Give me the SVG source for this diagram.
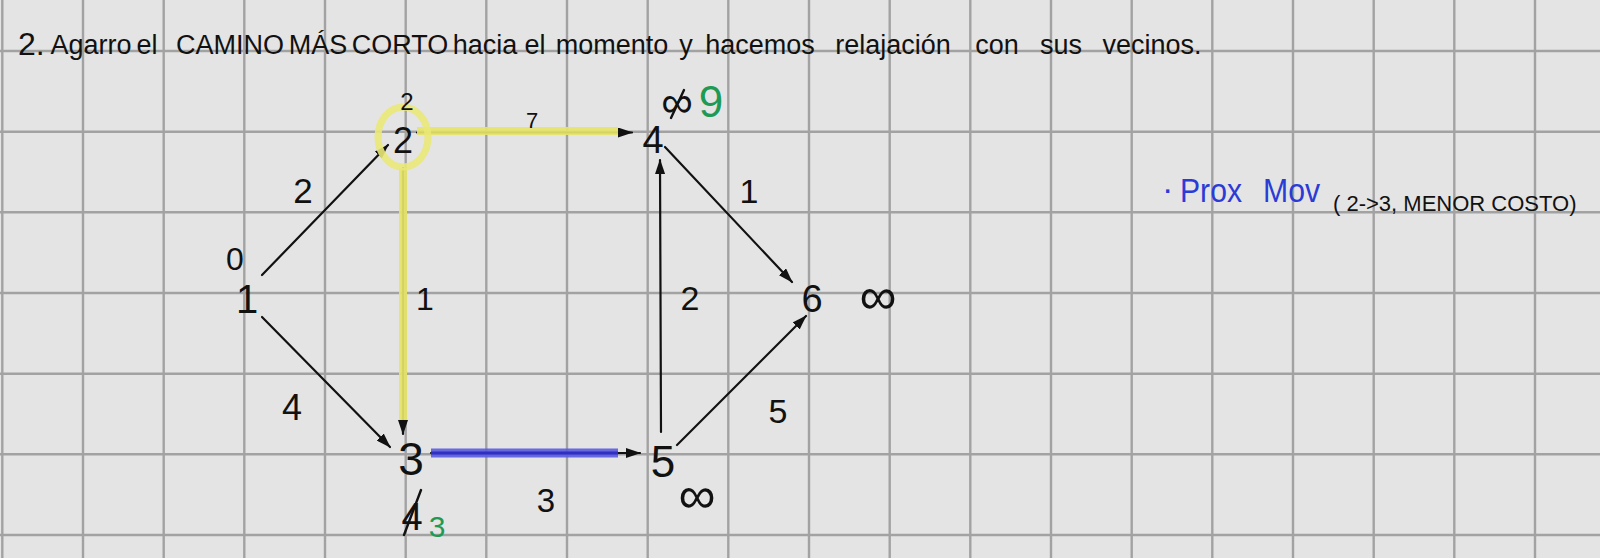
<svg xmlns="http://www.w3.org/2000/svg" width="1600" height="558" viewBox="0 0 1600 558">
<defs>
<style>
.grid line{stroke:#a2a2a2;stroke-width:2.4}
.hw{font-family:"Liberation Sans","DejaVu Sans",sans-serif;fill:#111}
.edge{stroke:#111;stroke-width:2.2;fill:none;stroke-linecap:round}
.arr{marker-end:url(#ah)}
.yel{stroke:#e6e56a;stroke-width:8;fill:none;opacity:0.92}
.blu{stroke:#5a5ae0;stroke-width:9;fill:none;opacity:0.9}
.bluc{stroke:#2f2fc2;stroke-width:3;fill:none}
.grn{fill:#1f9a55}
.blue{fill:#2b3bd6}
.strike{stroke:#111;stroke-width:2.4;stroke-linecap:round}
</style>
<marker id="ah" markerUnits="userSpaceOnUse" markerWidth="15" markerHeight="10" refX="14" refY="5" orient="auto">
<path d="M0,0 L15,5 L0,10 z" fill="#111"/>
</marker>
</defs>
<rect width="1600" height="558" fill="#e4e4e4"/>
<g class="grid">
<line x1="2.3" y1="0" x2="2.3" y2="558"/><line x1="83" y1="0" x2="83" y2="558"/><line x1="163.7" y1="0" x2="163.7" y2="558"/><line x1="244.3" y1="0" x2="244.3" y2="558"/><line x1="325" y1="0" x2="325" y2="558"/><line x1="405.7" y1="0" x2="405.7" y2="558"/><line x1="486.3" y1="0" x2="486.3" y2="558"/><line x1="567" y1="0" x2="567" y2="558"/><line x1="647.7" y1="0" x2="647.7" y2="558"/><line x1="728.3" y1="0" x2="728.3" y2="558"/><line x1="809" y1="0" x2="809" y2="558"/><line x1="889.7" y1="0" x2="889.7" y2="558"/><line x1="970.3" y1="0" x2="970.3" y2="558"/><line x1="1051" y1="0" x2="1051" y2="558"/><line x1="1131.7" y1="0" x2="1131.7" y2="558"/><line x1="1212.3" y1="0" x2="1212.3" y2="558"/><line x1="1293" y1="0" x2="1293" y2="558"/><line x1="1373.7" y1="0" x2="1373.7" y2="558"/><line x1="1454.3" y1="0" x2="1454.3" y2="558"/><line x1="1535" y1="0" x2="1535" y2="558"/>
<line x1="0" y1="51" x2="1600" y2="51"/><line x1="0" y1="131.7" x2="1600" y2="131.7"/><line x1="0" y1="212.3" x2="1600" y2="212.3"/><line x1="0" y1="293" x2="1600" y2="293"/><line x1="0" y1="373.7" x2="1600" y2="373.7"/><line x1="0" y1="454.3" x2="1600" y2="454.3"/><line x1="0" y1="535" x2="1600" y2="535"/>
</g>
<g id="title" class="hw">
<text x="18" y="55" font-size="32">2.</text>
<text y="54" font-size="27" text-anchor="middle"><tspan x="91">Agarro</tspan><tspan x="147">el</tspan><tspan x="230">CAMINO</tspan><tspan x="318">MÁS</tspan><tspan x="400">CORTO</tspan><tspan x="485">hacia</tspan><tspan x="535">el</tspan><tspan x="612">momento</tspan><tspan x="686">y</tspan><tspan x="760">hacemos</tspan><tspan x="893">relajación</tspan><tspan x="997">con</tspan><tspan x="1061">sus</tspan><tspan x="1152">vecinos.</tspan></text>
</g>
<g id="connectors">
<line class="edge arr" x1="262" y1="275" x2="388" y2="145"/>
<line class="edge arr" x1="262" y1="317" x2="390" y2="447"/>
<line class="edge arr" x1="417" y1="132.5" x2="632" y2="132.5"/>
<line class="yel" x1="417" y1="131" x2="618" y2="131"/>
<line class="edge arr" x1="403" y1="168" x2="403" y2="434"/>
<line class="yel" x1="403" y1="168" x2="403" y2="420"/>
<line class="edge arr" x1="431" y1="453" x2="640" y2="453"/>
<line class="blu" x1="431" y1="453" x2="618" y2="453"/>
<line class="bluc" x1="431" y1="453" x2="618" y2="453"/>
<line class="edge arr" x1="661" y1="432" x2="660" y2="160"/>
<line class="edge arr" x1="665" y1="147" x2="792" y2="282"/>
<line class="edge arr" x1="677" y1="445" x2="806" y2="316"/>
<g class="hw">
<text x="303" y="203" font-size="35" text-anchor="middle">2</text>
<text x="532" y="128" font-size="22" text-anchor="middle">7</text>
<text x="425" y="310" font-size="32" text-anchor="middle">1</text>
<text x="292" y="420" font-size="36" text-anchor="middle">4</text>
<text x="546" y="512" font-size="33" text-anchor="middle">3</text>
<text x="690" y="310" font-size="34" text-anchor="middle">2</text>
<text x="749" y="203" font-size="34" text-anchor="middle">1</text>
<text x="778" y="423" font-size="34" text-anchor="middle">5</text>
</g>
</g>
<g id="node-1" class="hw">
<text x="247" y="313" font-size="40" text-anchor="middle">1</text>
<text x="235" y="270" font-size="32" text-anchor="middle">0</text>
</g>
<g id="node-2" class="hw">
<ellipse cx="403" cy="137" rx="25" ry="30" fill="none" stroke="#e9e877" stroke-width="7" opacity="0.9"/>
<text x="403" y="153" font-size="36" text-anchor="middle">2</text>
<text x="407" y="110" font-size="24" text-anchor="middle">2</text>
</g>
<g id="node-3" class="hw">
<text x="411" y="475" font-size="46" text-anchor="middle">3</text>
<text x="412" y="530" font-size="38" text-anchor="middle">4</text>
<line class="strike" x1="404" y1="535" x2="421" y2="490"/>
<text x="437" y="537" font-size="30" text-anchor="middle" class="grn">3</text>
</g>
<g id="node-4" class="hw">
<text x="653" y="153" font-size="38" text-anchor="middle">4</text>
<text x="677" y="117" font-size="44" text-anchor="middle">∞</text>
<line class="strike" x1="671" y1="118" x2="684" y2="90"/>
<text x="711" y="117" font-size="44" text-anchor="middle" class="grn">9</text>
</g>
<g id="node-5" class="hw">
<text x="663" y="477" font-size="44" text-anchor="middle">5</text>
<text x="697" y="513" font-size="52" text-anchor="middle">∞</text>
</g>
<g id="node-6" class="hw">
<text x="812" y="312" font-size="38" text-anchor="middle">6</text>
<text x="878" y="314" font-size="52" text-anchor="middle">∞</text>
</g>
<g id="note" class="hw">
<text x="1162" y="200" font-size="34" class="blue">·</text>
<text x="1180" y="202" font-size="34" class="blue" textLength="62" lengthAdjust="spacingAndGlyphs">Prox</text>
<text x="1263" y="202" font-size="34" class="blue" textLength="57" lengthAdjust="spacingAndGlyphs">Mov</text>
<text x="1333" y="211" font-size="22">( 2-&gt;3, MENOR COSTO)</text>
</g>
</svg>
